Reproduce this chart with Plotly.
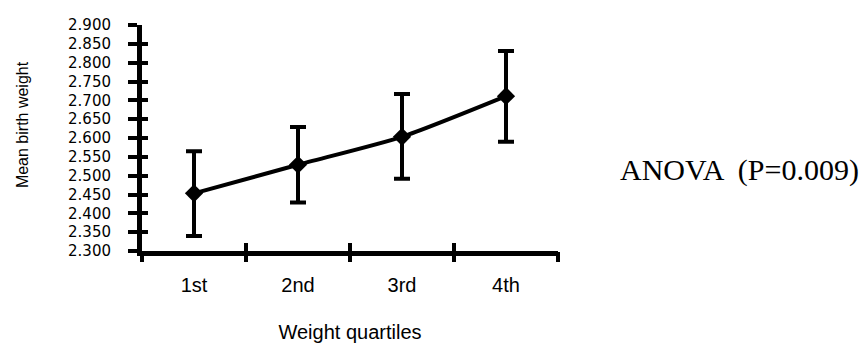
import plotly.graph_objects as go

quartiles = ["1st", "2nd", "3rd", "4th"]
mean_bw = [2.453, 2.529, 2.603, 2.711]
upper_bw = [2.565, 2.629, 2.717, 2.831]
lower_bw = [2.340, 2.429, 2.492, 2.590]
y_ticks = [2.300, 2.350, 2.400, 2.450, 2.500, 2.550, 2.600, 2.650, 2.700, 2.750, 2.800, 2.850, 2.900]
anova_text = "ANOVA  (P=0.009)"
y_title = "Mean birth weight"
x_title = "Weight quartiles"

x_pos = list(range(len(quartiles)))
bounds = [i - 0.5 for i in range(len(quartiles) + 1)]
err_plus = [u - m for u, m in zip(upper_bw, mean_bw)]
err_minus = [m - l for m, l in zip(mean_bw, lower_bw)]

fig = go.Figure()
fig.add_trace(go.Scatter(
    x=x_pos, y=mean_bw, mode="lines+markers",
    line=dict(color="black", width=4, shape="spline", smoothing=0.6),
    marker=dict(symbol="diamond", size=14, color="black"),
    error_y=dict(type="data", array=err_plus, arrayminus=err_minus,
                 color="black", thickness=4, width=8),
    showlegend=False, hoverinfo="skip"))
for ax in ["x2", "x3"]:
    fig.add_trace(go.Scatter(x=[None], y=[None], xaxis=ax, yaxis="y",
                             showlegend=False, hoverinfo="skip"))
fig.add_trace(go.Scatter(x=[None], y=[None], xaxis="x", yaxis="y2",
                         showlegend=False, hoverinfo="skip"))

sans = "Liberation Sans, Arial, sans-serif"
wide = "DejaVu Sans, Liberation Sans, sans-serif"
common = dict(showgrid=False, zeroline=False, automargin=False)
fig.update_layout(
    width=866, height=343,
    margin=dict(l=142, r=308, t=25, b=92),
    paper_bgcolor="white", plot_bgcolor="white",
    xaxis=dict(range=[-0.5, 3.5], tickvals=x_pos, ticktext=quartiles,
               ticks="", showline=True, linecolor="black", linewidth=5,
               tickfont=dict(family=sans, size=20, color="black"),
               ticklabelstandoff=12,
               title=dict(text=x_title, standoff=39,
                          font=dict(family=sans, size=20, color="black")),
               **common),
    xaxis2=dict(overlaying="x", anchor="y", range=[-0.5, 3.5], tickvals=bounds,
                ticks="outside", ticklen=10, tickwidth=4, tickcolor="black",
                showticklabels=False, showline=False, **common),
    xaxis3=dict(overlaying="x", anchor="y", range=[-0.5, 3.5], tickvals=bounds,
                ticks="inside", ticklen=8, tickwidth=4, tickcolor="black",
                showticklabels=False, showline=False, **common),
    yaxis=dict(range=[2.3, 2.9], tickvals=y_ticks, tickformat=".3f",
               ticks="outside", ticklen=9, tickwidth=4, tickcolor="black",
               showline=True, linecolor="black", linewidth=5,
               tickfont=dict(family=wide, size=15, color="black"),
               ticklabelstandoff=14,
               **common),
    yaxis2=dict(overlaying="y", anchor="x", range=[2.3, 2.9], tickvals=y_ticks,
                ticks="inside", ticklen=6, tickwidth=4, tickcolor="black",
                showticklabels=False, showline=False, **common),
    annotations=[
        dict(text=anova_text, xref="paper", yref="paper",
             x=1.0, xshift=181, y=0.36, xanchor="center", yanchor="middle",
             showarrow=False,
             font=dict(family="Liberation Serif, Times New Roman, serif",
                       size=30, color="black")),
        dict(text=y_title, xref="paper", yref="paper", textangle=-90,
             x=0.0, xshift=-120, y=0.557, xanchor="center", yanchor="middle",
             showarrow=False,
             font=dict(family=sans, size=16, color="black")),
    ],
)

fig.write_html("out.html", config={"displayModeBar": False},
               post_script="document.body.style.margin='0';document.body.style.padding='0';")
